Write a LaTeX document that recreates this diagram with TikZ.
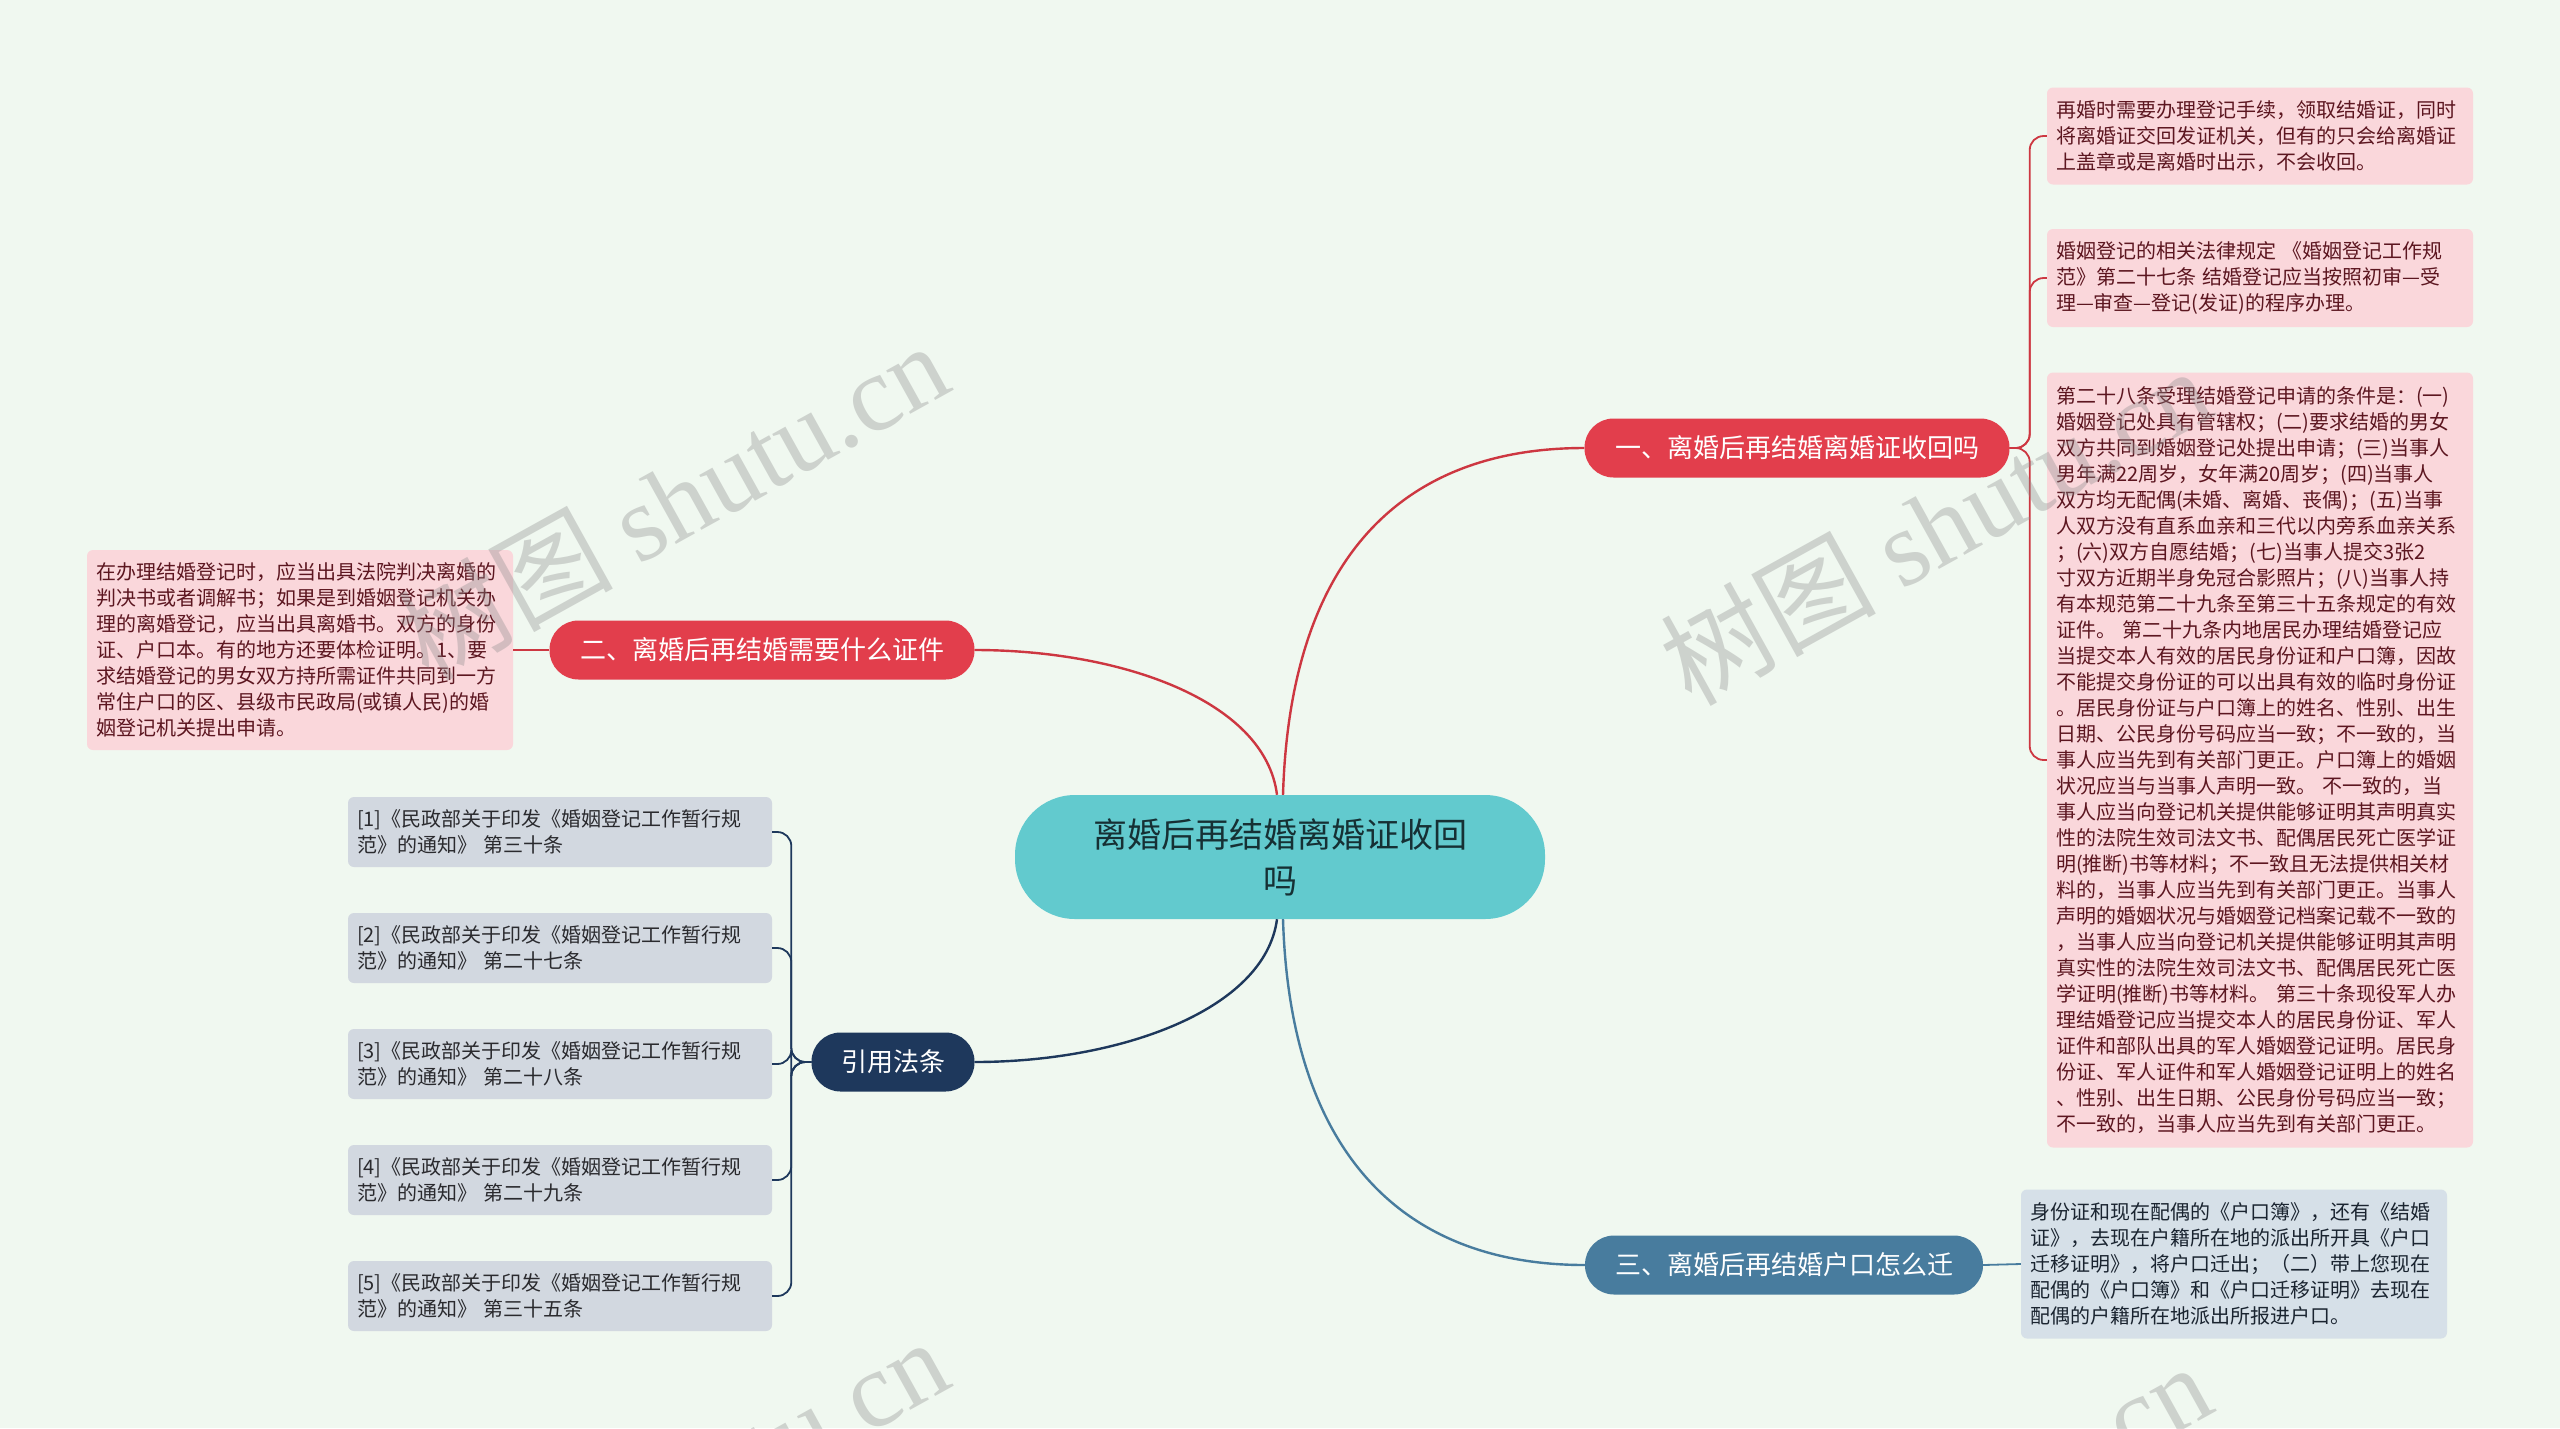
\documentclass[tikz,border=0pt]{standalone}
\usepackage{fontspec}
\setmainfont{Noto Sans CJK SC}
\newfontfamily\wmfont{Liberation Serif}
\usepackage{xcolor}
\usetikzlibrary{calc}

\definecolor{bgmint}{RGB}{240,248,240}
\definecolor{rootteal}{RGB}{98,202,206}
\definecolor{roottext}{RGB}{22,48,52}
\definecolor{topicred}{RGB}{226,62,76}
\definecolor{linered}{RGB}{205,55,65}
\definecolor{topicnavy}{RGB}{30,56,92}
\definecolor{topicsteel}{RGB}{72,124,158}
\definecolor{leafpink}{RGB}{250,215,219}
\definecolor{leafmaroon}{RGB}{92,22,32}
\definecolor{refgray}{RGB}{210,216,224}
\definecolor{reftext}{RGB}{42,42,46}
\definecolor{leafblue}{RGB}{214,224,232}
\definecolor{leafblutext}{RGB}{26,36,48}

\begin{document}
\begin{tikzpicture}[x=1pt, y=-1pt, every node/.style={inner sep=0pt},
  topic/.style={rounded corners=29pt, minimum height=59pt, text=white, font=\fontsize{26}{30}\selectfont},
  leaf/.style={rounded corners=6pt, text width=408pt, align=left, inner xsep=9pt, font=\fontsize{20}{26}\selectfont},
  pinkleaf/.style={leaf, fill=leafpink, text=leafmaroon},
  refleaf/.style={leaf, fill=refgray, text=reftext, text width=406pt, minimum height=70pt},
  link/.style={line width=2.4pt},
  twig/.style={line width=1.8pt, rounded corners=14pt},
  watermark/.style={rotate=29, text=black!45, opacity=0.35, font=\fontsize{108}{112}\selectfont}]
\useasboundingbox (0,0) rectangle (2560,1428);
\fill[bgmint] (0,0) rectangle (2560,1428);

% root
\node[fill=rootteal, text=roottext, rounded corners=60pt, minimum width=530pt, minimum height=124pt,
  align=center, font=\fontsize{34}{46}\selectfont] (root) at (1280,857) {离婚后再结婚离婚证收回\\吗};

% main topics
\node[topic, fill=topicred, minimum width=425pt] (recall) at (1797,448) {一、离婚后再结婚离婚证收回吗};
\node[topic, fill=topicred, minimum width=425pt] (papers) at (762,650) {二、离婚后再结婚需要什么证件};
\node[topic, fill=topicnavy, minimum width=163pt] (laws) at (893,1062) {引用法条};
\node[topic, fill=topicsteel, minimum width=398pt] (hukou) at (1784,1265) {三、离婚后再结婚户口怎么迁};

% leaves of topic one
\node[pinkleaf, minimum height=97pt] (recallA) at (2260,136) {再婚时需要办理登记手续，领取结婚证，同时\\将离婚证交回发证机关，但有的只会给离婚证\\上盖章或是离婚时出示，不会收回。};
\node[pinkleaf, minimum height=98pt] (recallB) at (2260,278) {婚姻登记的相关法律规定 《婚姻登记工作规\\范》第二十七条 结婚登记应当按照初审—受\\理—审查—登记(发证)的程序办理。};
\node[pinkleaf, minimum height=775pt] (recallC) at (2260,760) {第二十八条受理结婚登记申请的条件是：(一)\\婚姻登记处具有管辖权；(二)要求结婚的男女\\双方共同到婚姻登记处提出申请；(三)当事人\\男年满22周岁，女年满20周岁；(四)当事人\\双方均无配偶(未婚、离婚、丧偶)；(五)当事\\人双方没有直系血亲和三代以内旁系血亲关系\\；(六)双方自愿结婚；(七)当事人提交3张2\\寸双方近期半身免冠合影照片；(八)当事人持\\有本规范第二十九条至第三十五条规定的有效\\证件。 第二十九条内地居民办理结婚登记应\\当提交本人有效的居民身份证和户口簿，因故\\不能提交身份证的可以出具有效的临时身份证\\。居民身份证与户口簿上的姓名、性别、出生\\日期、公民身份号码应当一致；不一致的，当\\事人应当先到有关部门更正。户口簿上的婚姻\\状况应当与当事人声明一致。 不一致的，当\\事人应当向登记机关提供能够证明其声明真实\\性的法院生效司法文书、配偶居民死亡医学证\\明(推断)书等材料；不一致且无法提供相关材\\料的，当事人应当先到有关部门更正。当事人\\声明的婚姻状况与婚姻登记档案记载不一致的\\，当事人应当向登记机关提供能够证明其声明\\真实性的法院生效司法文书、配偶居民死亡医\\学证明(推断)书等材料。 第三十条现役军人办\\理结婚登记应当提交本人的居民身份证、军人\\证件和部队出具的军人婚姻登记证明。居民身\\份证、军人证件和军人婚姻登记证明上的姓名\\、性别、出生日期、公民身份号码应当一致；\\不一致的，当事人应当先到有关部门更正。};

% leaf of topic two
\node[pinkleaf, minimum height=200pt] (papersA) at (300,650) {在办理结婚登记时，应当出具法院判决离婚的\\判决书或者调解书；如果是到婚姻登记机关办\\理的离婚登记，应当出具离婚书。双方的身份\\证、户口本。有的地方还要体检证明。1、要\\求结婚登记的男女双方持所需证件共同到一方\\常住户口的区、县级市民政局(或镇人民)的婚\\姻登记机关提出申请。};

% leaf of topic three
\node[leaf, fill=leafblue, text=leafblutext, minimum height=149pt] (hukouA) at (2234,1264) {身份证和现在配偶的《户口簿》，还有《结婚\\证》，去现在户籍所在地的派出所开具《户口\\迁移证明》，将户口迁出；（二）带上您现在\\配偶的《户口簿》和《户口迁移证明》去现在\\配偶的户籍所在地派出所报进户口。};

% cited laws
\node[refleaf] (lawA) at (560,832) {[1]《民政部关于印发《婚姻登记工作暂行规\\范》的通知》 第三十条};
\node[refleaf] (lawB) at (560,948) {[2]《民政部关于印发《婚姻登记工作暂行规\\范》的通知》 第二十七条};
\node[refleaf] (lawC) at (560,1064) {[3]《民政部关于印发《婚姻登记工作暂行规\\范》的通知》 第二十八条};
\node[refleaf] (lawD) at (560,1180) {[4]《民政部关于印发《婚姻登记工作暂行规\\范》的通知》 第二十九条};
\node[refleaf] (lawE) at (560,1296) {[5]《民政部关于印发《婚姻登记工作暂行规\\范》的通知》 第三十五条};

% root to topics
\draw[link, linered] ([xshift=3pt]root.north) .. controls (1290,560) and (1400,448) .. (recall.west);
\draw[link, linered] ([xshift=-3pt]root.north) .. controls (1265,700) and (1120,650) .. (papers.east);
\draw[link, topicnavy] ([xshift=-3pt]root.south) .. controls (1265,1010) and (1120,1062) .. (laws.east);
\draw[link, topicsteel] ([xshift=3pt]root.south) .. controls (1290,1150) and (1400,1265) .. (hukou.west);

% topics to leaves
\foreach \leafname in {recallA, recallB, recallC}
  \draw[twig, linered] (recall.east) -- ++(20,0) |- (\leafname.west);
\draw[twig, linered] (papers.west) -- (papersA.east);
\draw[twig, topicsteel] (hukou.east) -- (hukouA.west);
\foreach \leafname in {lawA, lawB, lawC, lawD, lawE}
  \draw[twig, topicnavy] (laws.west) -- ++(-20,0) |- (\leafname.east);

% watermarks
\node[watermark] (markA) at (672,500) {树图 {\wmfont shutu.cn}};
\node[watermark] (markB) at (1935,525) {树图 {\wmfont shutu.cn}};
\node[watermark] (markC) at (672,1496) {树图 {\wmfont shutu.cn}};
\node[watermark] (markD) at (1935,1521) {树图 {\wmfont shutu.cn}};
\end{tikzpicture}
\end{document}
